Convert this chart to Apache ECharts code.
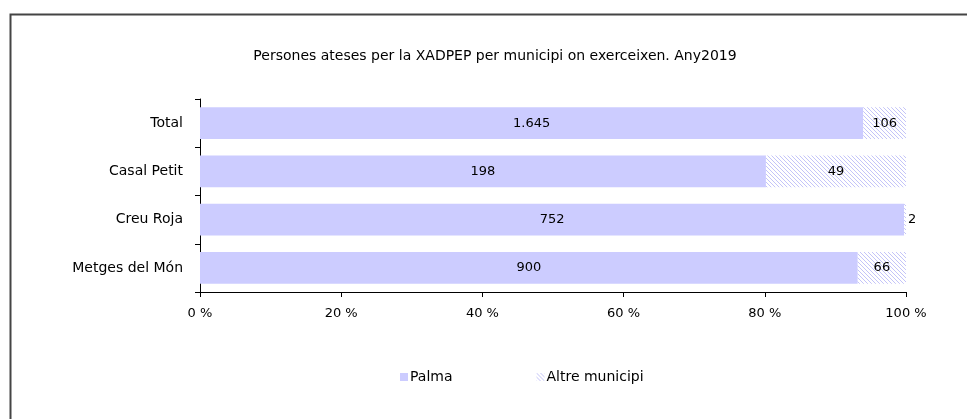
<!DOCTYPE html>
<html>
<head>
<meta charset="utf-8">
<script src="https://cdn.jsdelivr.net/npm/echarts@6/dist/echarts.min.js"></script>
<style>
  html, body { margin: 0; padding: 0; background: #fff; }
  #chart { width: 967px; height: 419px; }
</style>
</head>
<body>
<div id="chart"></div>
<script>
// dades del gràfic
const categories = ["Total", "Casal Petit", "Creu Roja", "Metges del Món"];
const palma = [1645, 198, 752, 900];
const altre = [106, 49, 2, 66];
const xTicks = [0, 20, 40, 60, 80, 100];

const FONT = "DejaVu Sans";

// patró ratllat per "Altre municipi"
function hatch() {
    const c = document.createElement("canvas");
    c.width = 4; c.height = 4;
    const ctx = c.getContext("2d");
    ctx.fillStyle = "#ffffff";
    ctx.fillRect(0, 0, 4, 4);
    ctx.fillStyle = "#c4c4f8";
    for (let i = 0; i < 4; i++) ctx.fillRect(i, i, 1, 1);
    return c;
}

const fmt = v => String(v).replace(/\B(?=(\d{3})+(?!\d))/g, ".");
const totals = palma.map((v, i) => v + altre[i]);

const palmaData = palma.map((v, i) => ({ value: v / totals[i] * 100, raw: v }));
const altreData = altre.map((v, i) => {
    const item = { value: v / totals[i] * 100, raw: v };
    if (v / totals[i] < 0.02) item.label = { position: "right", distance: 2 };
    return item;
});

const chart = echarts.init(document.getElementById("chart"));
chart.setOption({
    animation: false,
    backgroundColor: "#fff",
    textStyle: { fontFamily: FONT },
    title: {
        text: "Persones ateses per la XADPEP per municipi on exerceixen. Any2019",
        left: 490, top: 44, textAlign: "center",
        textStyle: { fontFamily: FONT, fontSize: 14, fontWeight: "normal", color: "#000" }
    },
    graphic: [{
        type: "rect", left: 8, top: 12, silent: true,
        shape: { width: 1000, height: 500 },
        style: { fill: "none", stroke: "#444", lineWidth: 2 }
    }],
    legend: {
        top: 365, left: 395,
        itemWidth: 8, itemHeight: 8, itemGap: 84,
        icon: "rect",
        textStyle: { fontFamily: FONT, fontSize: 14, color: "#000", padding: [0, 0, 0, -3] },
        data: ["Palma", "Altre municipi"]
    },
    grid: { left: 200, right: 61, top: 99, bottom: 127 },
    xAxis: {
        type: "value", min: 0, max: 100, interval: 20,
        axisLine: { show: true, lineStyle: { color: "#000", width: 1 } },
        axisTick: { show: true, length: 5, lineStyle: { color: "#000" } },
        splitLine: { show: false },
        axisLabel: {
            color: "#000", fontSize: 13, margin: 15,
            formatter: v => xTicks.includes(v) ? v + " %" : ""
        }
    },
    yAxis: {
        type: "category", data: categories, inverse: true,
        axisLine: { show: true, lineStyle: { color: "#000", width: 1 } },
        axisTick: { show: true, length: 5, lineStyle: { color: "#000" } },
        axisLabel: { color: "#000", fontSize: 14, margin: 17 }
    },
    series: [
        {
            name: "Palma", type: "bar", stack: "t", barWidth: "66%",
            itemStyle: { color: "#ccccff" },
            label: {
                show: true, position: "inside", color: "#000", fontSize: 13,
                formatter: p => fmt(p.data.raw)
            },
            data: palmaData
        },
        {
            name: "Altre municipi", type: "bar", stack: "t",
            itemStyle: { color: { image: hatch(), repeat: "repeat" } },
            label: {
                show: true, position: "inside", color: "#000", fontSize: 13,
                formatter: p => fmt(p.data.raw)
            },
            data: altreData
        }
    ]
});
</script>
</body>
</html>
